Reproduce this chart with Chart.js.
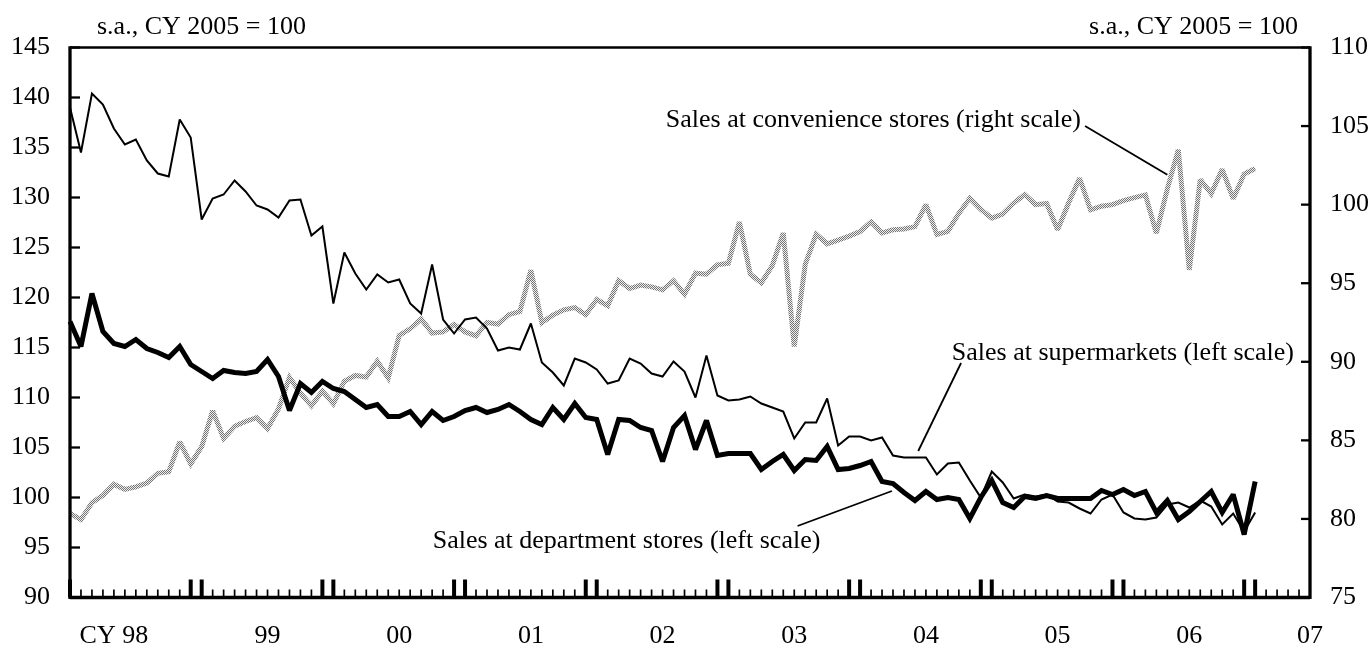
<!DOCTYPE html>
<html lang="en">
<head>
  <meta charset="UTF-8">
  <title>Sales at retail stores</title>
  <script src="https://cdn.jsdelivr.net/npm/chart.js"></script>
  <style>
    body {
      margin: 0;
      background: #fff;
    }
    #chart-container {
      width: 1372px;
      height: 648px;
    }
  </style>
</head>
<body>
  <div id="chart-container">
    <canvas id="salesChart" width="1372" height="648"></canvas>
  </div>
  <script>
    // monthly, Jan 1998 .. Jun 2007 on the axis, data to Jan 2007
    const months = [];
    for (let y = 1998; y <= 2007; y++) {
      for (let m = 1; m <= 12; m++) {
        if (y === 2007 && m > 6) break;
        months.push(y + '/' + m);
      }
    }

    // year labels and the month index each one sits under
    const yearLabels = ['CY 98', '99', '00', '01', '02', '03', '04', '05', '06', '07'];
    const yearLabelIndex = [4, 18, 30, 42, 54, 66, 78, 90, 102, 113];

    // s.a., CY 2005 = 100 (left scale)
    const supermarkets = [
      139.0, 134.5, 140.4, 139.3, 136.9, 135.3, 135.8, 133.7, 132.4, 132.1, 137.8, 136.0,
      127.8, 129.9, 130.3, 131.7, 130.6, 129.2, 128.8, 128.0, 129.7, 129.8, 126.2, 127.1,
      119.4, 124.5, 122.4, 120.8, 122.3, 121.5, 121.8, 119.4, 118.4, 123.3, 117.8, 116.4,
      117.8, 118.0, 116.9, 114.7, 115.0, 114.8, 117.4, 113.5, 112.5, 111.2, 113.9, 113.5,
      112.8, 111.4, 111.7, 113.9, 113.4, 112.4, 112.1, 113.6, 112.6, 110.0, 114.2, 110.2,
      109.7, 109.8, 110.1, 109.4, 109.0, 108.6, 105.9, 107.5, 107.5, 109.9, 105.2, 106.1,
      106.1, 105.7, 106.0, 104.2, 104.0, 104.0, 104.0, 102.3, 103.4, 103.5, 101.7, 100.0,
      102.6, 101.5, 99.9, 100.3, 100.1, 100.3, 99.6, 99.5, 98.9, 98.4, 99.8, 100.3,
      98.5, 97.9, 97.8, 98.0, 99.3, 99.5, 99.0, 99.7, 99.1, 97.3, 98.4, 96.6,
      98.5
    ];
    const deptStores = [
      117.6, 115.1, 120.4, 116.6, 115.4, 115.1, 115.8, 114.9, 114.5, 114.0, 115.1, 113.3,
      112.6, 111.9, 112.7, 112.5, 112.4, 112.6, 113.8, 112.1, 108.7, 111.4, 110.5, 111.6,
      110.9, 110.6, 109.8, 109.0, 109.3, 108.1, 108.1, 108.6, 107.3, 108.6, 107.7, 108.1,
      108.7, 109.0, 108.5, 108.8, 109.3, 108.6, 107.8, 107.3, 109.0, 107.8, 109.4, 108.0,
      107.8, 104.3, 107.8, 107.7, 107.0, 106.7, 103.6, 107.0, 108.2, 104.8, 107.7, 104.2,
      104.4, 104.4, 104.4, 102.8, 103.6, 104.3, 102.7, 103.8, 103.7, 105.1, 102.8, 102.9,
      103.2, 103.6, 101.6, 101.4, 100.5, 99.7, 100.6, 99.8, 100.0, 99.8, 97.9, 100.0,
      101.7, 99.5, 99.0, 100.1, 99.9, 100.2, 99.9, 99.9, 99.9, 99.9, 100.7, 100.3,
      100.8, 100.2, 100.6, 98.5, 99.7, 97.8, 98.6, 99.6, 100.6, 98.5, 100.3, 96.3,
      101.6
    ];
    // right scale
    const convStores = [
      80.35, 79.95, 81.03, 81.5, 82.2, 81.88, 82.04, 82.28, 82.9, 83.0, 84.9, 83.5,
      84.6, 86.88, 85.13, 85.9, 86.2, 86.45, 85.75, 87.0, 89.0, 88.0, 87.2, 88.13,
      87.33, 88.76, 89.13, 89.03, 90.03, 88.97, 91.68, 92.1, 92.73, 91.83, 91.9, 92.37,
      91.9, 91.66, 92.5, 92.4, 93.0, 93.2, 95.83, 92.5, 92.97, 93.31, 93.45, 93.0,
      93.96, 93.57, 95.16, 94.66, 94.88, 94.77, 94.58, 95.16, 94.3, 95.64, 95.57, 96.17,
      96.27, 98.89, 95.57, 95.03, 96.12, 98.2, 90.97, 96.2, 98.13, 97.5, 97.74, 98.0,
      98.29, 98.9, 98.2, 98.4, 98.45, 98.6, 100.0, 98.1, 98.3, 99.45, 100.4, 99.7,
      99.14, 99.4, 100.1, 100.65, 100.0, 100.07, 98.4, 100.1, 101.68, 99.67, 99.9, 100.0,
      100.25, 100.45, 100.62, 98.18, 101.0, 103.5, 95.85, 101.6, 100.7, 102.25, 100.38, 101.95,
      102.3
    ];

    const unitText = 's.a., CY 2005 = 100';

    // labels with leader lines, in data units (month index, value)
    const notes = [
      { text: 'Sales at convenience stores (right scale)', axis: 'y1', at: [54.3, 104.95], from: [92.5, 105.0], to: [100.0, 101.9] },
      { text: 'Sales at supermarkets (left scale)', axis: 'y', at: [80.36, 113.8], from: [81.2, 113.45], to: [77.3, 104.65] },
      { text: 'Sales at department stores (left scale)', axis: 'y', at: [33.05, 94.95], from: [66.3, 97.15], to: [74.9, 100.65] }
    ];

    const FONT = "'Liberation Serif', 'Times New Roman', serif";
    Chart.defaults.font.family = FONT;
    Chart.defaults.font.size = 26;
    Chart.defaults.color = '#000';

    // halftone grey for the convenience store line
    function halftone() {
      const c = document.createElement('canvas');
      c.width = 2;
      c.height = 2;
      const g = c.getContext('2d');
      g.fillStyle = '#eeeeee';
      g.fillRect(0, 0, 2, 2);
      g.fillStyle = '#747474';
      g.fillRect(0, 0, 1, 1);
      g.fillRect(1, 1, 1, 1);
      return g.createPattern(c, 'repeat');
    }

    function seg(ctx, x1, y1, x2, y2) {
      ctx.beginPath();
      ctx.moveTo(x1, y1);
      ctx.lineTo(x2, y2);
      ctx.stroke();
    }

    // keep the sharp V joins from shooting past the data
    const miterPlugin = {
      id: 'miter',
      beforeDatasetsDraw(chart) {
        chart.ctx.miterLimit = 2.5;
      }
    };

    // frame and inward tick marks
    const framePlugin = {
      id: 'frame',
      afterDatasetsDraw(chart) {
        const { ctx, chartArea: a, scales } = chart;
        ctx.save();
        ctx.strokeStyle = '#000';
        ctx.lineCap = 'butt';

        ctx.lineWidth = 2.4;
        seg(ctx, a.left, a.top, a.right, a.top);
        ctx.lineWidth = 3.3;
        seg(ctx, a.left, a.top - 1.2, a.left, a.bottom + 1.6);
        seg(ctx, a.right, a.top - 1.2, a.right, a.bottom + 1.6);
        seg(ctx, a.left, a.bottom, a.right, a.bottom);

        ctx.lineWidth = 2.3;
        scales.y.ticks.forEach(t => {
          const y = scales.y.getPixelForValue(t.value);
          seg(ctx, a.left, y, a.left + 10, y);
        });
        scales.y1.ticks.forEach(t => {
          const y = scales.y1.getPixelForValue(t.value);
          seg(ctx, a.right - 9, y, a.right, y);
        });

        scales.x.ticks.forEach((t, i) => {
          const x = scales.x.getPixelForTick(i);
          const m = i % 12;
          const tall = (m === 0 || m === 11);
          ctx.lineWidth = tall ? 4 : 1.7;
          seg(ctx, x, a.bottom, x, a.bottom - (tall ? 18 : 8));
        });
        ctx.restore();
      }
    };

    const notesPlugin = {
      id: 'notes',
      afterDraw(chart) {
        const { ctx, chartArea: a, scales } = chart;
        ctx.save();
        ctx.fillStyle = '#000';
        ctx.strokeStyle = '#000';
        ctx.font = '26px ' + FONT;
        ctx.textBaseline = 'alphabetic';

        ctx.textAlign = 'left';
        ctx.fillText(unitText, a.left + 27, a.top - 13.5);
        ctx.textAlign = 'right';
        ctx.fillText(unitText, a.right - 12, a.top - 13.5);

        ctx.textAlign = 'left';
        ctx.lineWidth = 1.8;
        notes.forEach(n => {
          const ys = scales[n.axis];
          ctx.fillText(n.text, scales.x.getPixelForValue(n.at[0]), ys.getPixelForValue(n.at[1]));
          seg(ctx,
            scales.x.getPixelForValue(n.from[0]), ys.getPixelForValue(n.from[1]),
            scales.x.getPixelForValue(n.to[0]), ys.getPixelForValue(n.to[1]));
        });
        ctx.restore();
      }
    };

    const ctx = document.getElementById('salesChart').getContext('2d');
    new Chart(ctx, {
      type: 'line',
      data: {
        labels: months,
        datasets: [
          {
            label: 'Sales at supermarkets (left scale)',
            data: supermarkets,
            yAxisID: 'y',
            borderColor: '#000',
            borderWidth: 2,
            pointRadius: 0,
            tension: 0,
            order: 1
          },
          {
            label: 'Sales at department stores (left scale)',
            data: deptStores,
            yAxisID: 'y',
            borderColor: '#000',
            borderWidth: 5,
            pointRadius: 0,
            tension: 0,
            order: 2
          },
          {
            label: 'Sales at convenience stores (right scale)',
            data: convStores,
            yAxisID: 'y1',
            borderColor: halftone(),
            borderWidth: 5,
            pointRadius: 0,
            tension: 0,
            order: 3
          }
        ]
      },
      options: {
        responsive: false,
        animation: false,
        events: [],
        layout: { padding: { top: 47.5, left: 0, right: 0, bottom: 0 } },
        plugins: {
          legend: { display: false },
          tooltip: { enabled: false }
        },
        scales: {
          x: {
            type: 'category',
            offset: false,
            grid: { display: false, drawTicks: false },
            border: { display: false },
            ticks: {
              autoSkip: false,
              maxRotation: 0,
              minRotation: 0,
              padding: 23,
              callback: function (value, index) {
                const k = yearLabelIndex.indexOf(index);
                return k >= 0 ? yearLabels[k] : '';
              }
            },
            afterFit: function (scale) { scale.height = 50.5; }
          },
          y: {
            position: 'left',
            min: 90,
            max: 145,
            grid: { display: false, drawTicks: false },
            border: { display: false },
            ticks: { stepSize: 5, padding: 20 },
            afterFit: function (scale) { scale.width = 70; }
          },
          y1: {
            position: 'right',
            min: 75,
            max: 110,
            grid: { display: false, drawTicks: false },
            border: { display: false },
            ticks: { stepSize: 5, padding: 20 },
            afterFit: function (scale) { scale.width = 62; }
          }
        }
      },
      plugins: [miterPlugin, framePlugin, notesPlugin]
    });
  </script>
</body>
</html>
